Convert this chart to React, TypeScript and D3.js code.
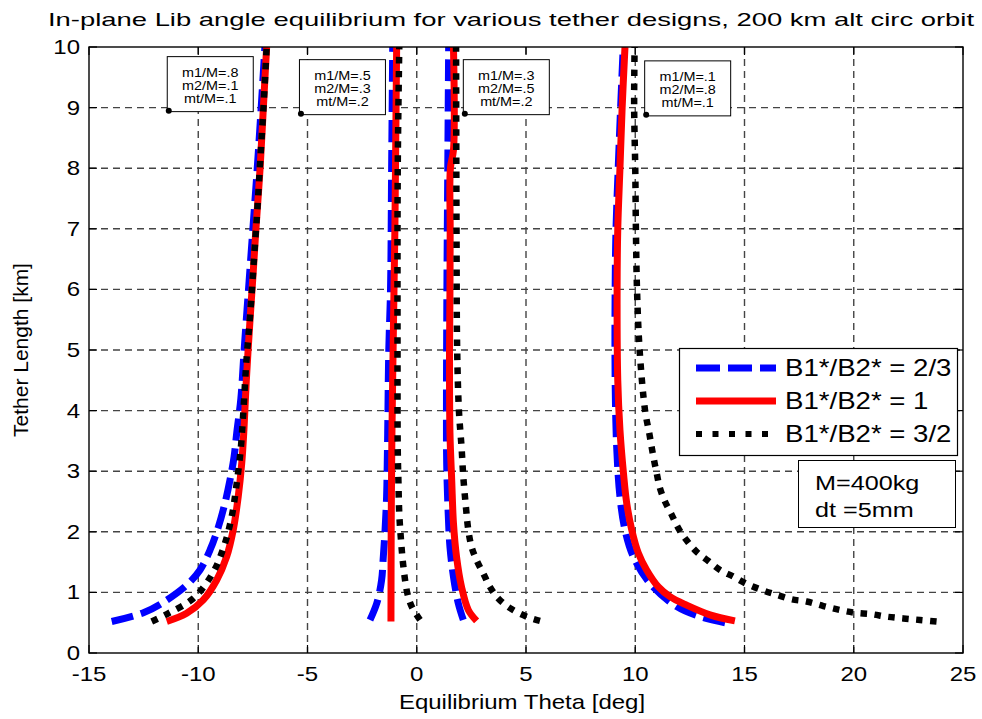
import React from "react";
import * as d3 from "d3";

type P = [number, number];

// x tick values and y tick values
const xTicks = [-15, -10, -5, 0, 5, 10, 15, 20, 25];
const yTicks = [0, 1, 2, 3, 4, 5, 6, 7, 8, 9, 10];

// Group 1: m1/M=.8, m2/M=.1, mt/M=.1
const g1Blue: P[] = [[-13.96,0.52],[-12.51,0.665],[-11.67,0.82],[-10.53,1.12],[-9.92,1.37],[-9.46,1.7],[-9.08,2.08],[-8.78,2.47],[-8.55,2.85],[-8.36,3.24],[-8.24,3.63],[-8.05,4.2],[-7.9,5],[-7.7,6],[-7.5,7],[-7.3,8],[-7.12,9],[-6.95,10]];
const g1Red: P[] = [[-11.44,0.52],[-10.53,0.655],[-9.77,0.875],[-9.16,1.2],[-8.7,1.59],[-8.4,2.03],[-8.17,2.58],[-8.01,3.13],[-7.91,3.68],[-7.8,4.5],[-7.63,5.5],[-7.5,6.2],[-7.36,7],[-7.17,8],[-7.02,9],[-6.87,10]];
const g1Black: P[] = [[-12.13,0.52],[-11.37,0.655],[-10.23,0.9],[-9.38,1.29],[-8.85,1.73],[-8.47,2.25],[-8.24,2.8],[-8.06,3.35],[-7.95,3.9],[-7.8,4.8],[-7.62,5.6],[-7.45,6.5],[-7.3,7.3],[-7.15,8.2],[-7.0,9.1],[-6.87,10]];

// Group 2: m1/M=.5, m2/M=.3, mt/M=.2
const g2Blue: P[] = [[-2.14,0.545],[-1.83,0.82],[-1.61,1.2],[-1.53,1.59],[-1.45,2.03],[-1.38,2.58],[-1.35,3.13],[-1.33,3.63],[-1.28,5],[-1.2,6],[-1.15,8],[-1.1,10]];
const g2Red: P[] = [[-1.18,0.52],[-1.17,2],[-1.14,3.5],[-1.07,5.3],[-1.0,7],[-0.96,8.5],[-0.92,10]];
const g2Black: P[] = [[0.15,0.545],[-0.23,0.765],[-0.43,0.985],[-0.61,1.42],[-0.72,1.86],[-0.8,2.3],[-0.84,2.85],[-0.87,3.35],[-0.88,5],[-0.87,8],[-0.8,10]];

// Group 3: m1/M=.3, m2/M=.5, mt/M=.2
const g3Blue: P[] = [[2.13,0.545],[1.9,0.82],[1.68,1.26],[1.52,1.75],[1.44,2.3],[1.37,3.13],[1.36,4],[1.38,6],[1.42,8],[1.46,10]];
const g3Red: P[] = [[2.74,0.53],[2.36,0.71],[2.05,1.09],[1.82,1.59],[1.68,2.14],[1.6,2.85],[1.52,3.63],[1.5,5],[1.52,6],[1.53,7],[1.54,8],[1.68,8.3],[1.68,10]];
const g3Black: P[] = [[5.64,0.53],[5.03,0.6],[4.27,0.74],[3.73,0.9],[3.35,1.09],[3.05,1.31],[2.74,1.53],[2.51,1.75],[2.36,2.03],[2.25,2.41],[2.13,2.91],[2.05,3.4],[1.93,4],[1.85,5],[1.82,7],[1.8,10]];

// Group 4: m1/M=.1, m2/M=.8, mt/M=.1
const g4Blue: P[] = [[14.11,0.5],[12.97,0.6],[11.9,0.765],[10.67,1.15],[9.91,1.59],[9.53,2.03],[9.3,2.58],[9.15,3.4],[9.08,4.5],[9.08,6],[9.12,7],[9.22,8],[9.33,9],[9.45,10]];
const g4Red: P[] = [[14.56,0.53],[13.42,0.63],[12.35,0.79],[11.59,0.93],[11.06,1.09],[10.52,1.37],[10.14,1.65],[9.84,2.03],[9.61,2.47],[9.46,2.97],[9.3,3.68],[9.2,4.5],[9.17,6],[9.2,7],[9.3,8],[9.4,9],[9.53,10]];
const g4Black: P[] = [[23.79,0.52],[23.03,0.545],[22.27,0.57],[21.5,0.6],[20.82,0.64],[20.06,0.665],[19.37,0.71],[18.61,0.775],[17.84,0.85],[17.16,0.885],[16.47,0.96],[15.79,1.04],[15.1,1.14],[14.49,1.26],[13.88,1.37],[13.34,1.52],[12.81,1.67],[12.35,1.86],[11.97,2.06],[11.67,2.28],[11.36,2.5],[11.13,2.72],[10.98,2.97],[10.86,3.18],[10.75,3.4],[10.64,3.63],[10.45,4],[10.2,5],[10.08,6],[10.03,7],[10.0,8],[9.95,9],[9.97,10]];

const blueSeries = [g1Blue, g2Blue, g3Blue, g4Blue];
const redSeries = [g1Red, g2Red, g3Red, g4Red];
const blackSeries = [g1Black, g2Black, g3Black, g4Black];

const legendLabels = ["B1*/B2* = 2/3", "B1*/B2* = 1", "B1*/B2* = 3/2"];

// annotation boxes: anchor point (theta, length) and text lines
const annotAnchors: P[] = [[-11.35, 8.95], [-5.3, 8.9], [2.2, 8.9], [10.5, 8.88]];
const annotTexts: string[][] = [
  ["m1/M=.8", "m2/M=.1", "mt/M=.1"],
  ["m1/M=.5", "m2/M=.3", "mt/M=.2"],
  ["m1/M=.3", "m2/M=.5", "mt/M=.2"],
  ["m1/M=.1", "m2/M=.8", "mt/M=.1"],
];
const infoLines = ["M=400kg", "dt =5mm"];

const FONT = "'Liberation Sans', Arial, sans-serif";
const SX = 1.2;

function T(props: { x: number; y: number; anchor?: string; size: number; children: React.ReactNode }) {
  const { x, y, anchor = "start", size, children } = props;
  return (
    <g transform={`translate(${x},${y}) scale(${SX},1)`}>
      <text textAnchor={anchor as any} fontSize={size} fontFamily={FONT} fill="#000">
        {children}
      </text>
    </g>
  );
}

export default function App() {
  const W = 982, H = 719;
  const L = 89, R = 963, TOP = 47, B = 653;
  const x = d3.scaleLinear().domain([-15, 25]).range([L, R]);
  const y = d3.scaleLinear().domain([0, 10]).range([B, TOP]);
  const line = d3
    .line<P>()
    .x((d) => x(d[0]))
    .y((d) => y(d[1]))
    .curve(d3.curveCatmullRom.alpha(0.5));

  const gridColor = "#444";
  const tickLen = 8;

  return (
    <svg width={W} height={H} style={{ position: "absolute", left: 0, top: 0, background: "#fff" }}>
      <rect x={0} y={0} width={W} height={H} fill="#fff" />
      <defs>
        <clipPath id="plotclip">
          <rect x={L} y={TOP} width={R - L} height={B - TOP} />
        </clipPath>
      </defs>
      {/* grid */}
      {xTicks.slice(1, -1).map((t) => (
        <line key={"gx" + t} x1={x(t)} x2={x(t)} y1={TOP} y2={B} stroke={gridColor} strokeWidth={1.4} strokeDasharray="7 5" />
      ))}
      {yTicks.slice(1, -1).map((t) => (
        <line key={"gy" + t} x1={L} x2={R} y1={y(t)} y2={y(t)} stroke={gridColor} strokeWidth={1.4} strokeDasharray="7 5" />
      ))}
      {/* curves */}
      <g clipPath="url(#plotclip)" fill="none">
        {blueSeries.map((s, i) => (
          <path key={"b" + i} d={line(s) || ""} stroke="#0000ff" strokeWidth={7} strokeDasharray="22 8" />
        ))}
        {redSeries.map((s, i) => (
          <path key={"r" + i} d={line(s) || ""} stroke="#ff0000" strokeWidth={7} />
        ))}
        {blackSeries.map((s, i) => (
          <path key={"k" + i} d={line(s) || ""} stroke="#000" strokeWidth={6.5} strokeDasharray="6.5 7.5" />
        ))}
      </g>
      {/* axes box */}
      <rect x={L} y={TOP} width={R - L} height={B - TOP} fill="none" stroke="#000" strokeWidth={1.4} />
      {xTicks.map((t) => (
        <g key={"tx" + t}>
          <line x1={x(t)} x2={x(t)} y1={B} y2={B - tickLen} stroke="#000" strokeWidth={1.2} />
          <line x1={x(t)} x2={x(t)} y1={TOP} y2={TOP + tickLen} stroke="#000" strokeWidth={1.2} />
          <T x={x(t)} y={681} anchor="middle" size={20}>{String(t)}</T>
        </g>
      ))}
      {yTicks.map((t) => (
        <g key={"ty" + t}>
          <line x1={L} x2={L + tickLen} y1={y(t)} y2={y(t)} stroke="#000" strokeWidth={1.2} />
          <line x1={R} x2={R - tickLen} y1={y(t)} y2={y(t)} stroke="#000" strokeWidth={1.2} />
          <T x={80} y={y(t) + 7} anchor="end" size={20}>{String(t)}</T>
        </g>
      ))}
      {/* title and labels */}
      <text x={511} y={26} textAnchor="middle" fontSize={19} fontFamily={FONT} textLength={926} lengthAdjust="spacingAndGlyphs">
        In-plane Lib angle equilibrium for various tether designs, 200 km alt circ orbit
      </text>
      <T x={522} y={709} anchor="middle" size={20}>Equilibrium Theta [deg]</T>
      <text transform={`translate(28,${(TOP + B) / 2}) rotate(-90)`} textAnchor="middle" fontSize={21} fontFamily={FONT}>
        Tether Length [km]
      </text>
      {/* annotations */}
      {annotAnchors.map((a, i) => {
        const px = x(a[0]);
        const py = y(a[1]);
        const bw = 86, bh = 55;
        return (
          <g key={"an" + i}>
            <rect x={px - 1.5} y={py - bh + 1} width={bw} height={bh} fill="#fff" stroke="#000" strokeWidth={1} />
            {annotTexts[i].map((s, j) => (
              <T key={j} x={px - 1.5 + bw / 2} y={py - bh + 21 + j * 13} anchor="middle" size={12}>{s}</T>
            ))}
            <circle cx={px} cy={py} r={3} fill="#000" />
          </g>
        );
      })}
      {/* legend */}
      <rect x={679.5} y={348.5} width={278} height={107} fill="#fff" stroke="#000" strokeWidth={1.2} />
      {legendLabels.map((s, i) => {
        const ly = 368 + i * 33;
        const dash = i === 0 ? "24 8" : i === 2 ? "6 10.5" : undefined;
        const col = i === 0 ? "#0000ff" : i === 1 ? "#ff0000" : "#000";
        return (
          <g key={"lg" + i}>
            <line x1={696} x2={776} y1={ly} y2={ly} stroke={col} strokeWidth={i === 2 ? 6 : 7} strokeDasharray={dash} />
            <T x={785} y={ly + 8} size={23}>{s}</T>
          </g>
        );
      })}
      {/* info box */}
      <rect x={798.5} y={460.5} width={157} height={67} fill="#fff" stroke="#000" strokeWidth={1} />
      {infoLines.map((s, i) => (
        <T key={"in" + i} x={815} y={490 + i * 27} size={21}>{s}</T>
      ))}
    </svg>
  );
}
